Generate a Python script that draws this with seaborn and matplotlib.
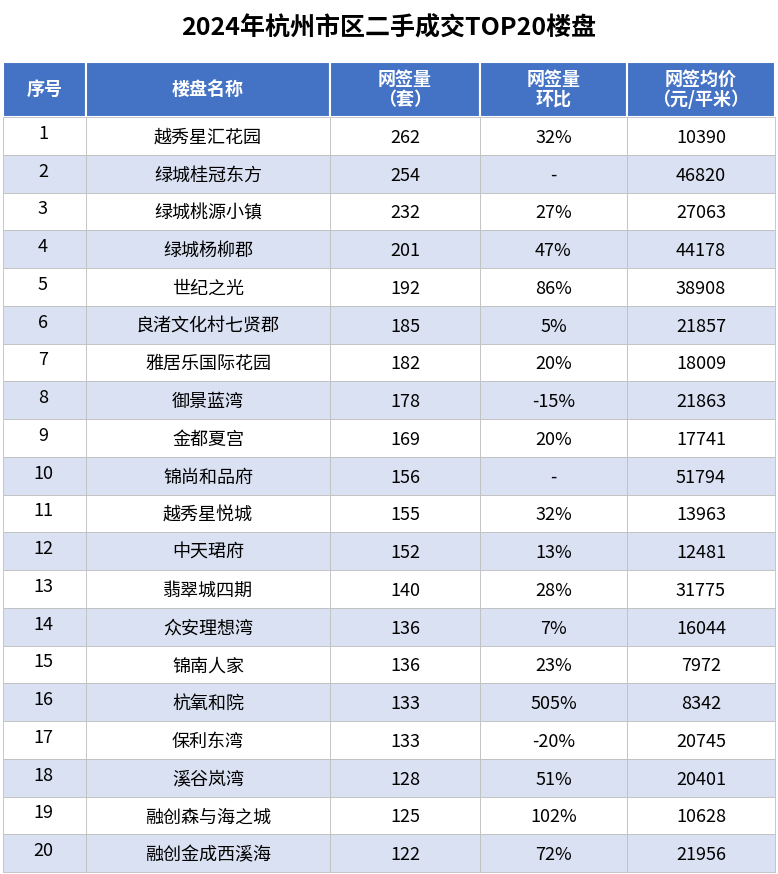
import matplotlib
matplotlib.use("Agg")
import matplotlib.pyplot as plt
import seaborn as sns
import numpy as np

sns.set_theme(style="white")
plt.rcParams['font.family'] = ['Noto Sans CJK SC', 'DejaVu Sans']

title = "2024年杭州市区二手成交TOP20楼盘"
headers = ["序号", "楼盘名称", "网签量\n（套）", "网签量\n环比", "网签均价\n（元/平米）"]
ranks = list(range(1, 21))
names = ["越秀星汇花园", "绿城桂冠东方", "绿城桃源小镇", "绿城杨柳郡", "世纪之光", "良渚文化村七贤郡",
         "雅居乐国际花园", "御景蓝湾", "金都夏宫", "锦尚和品府", "越秀星悦城", "中天珺府",
         "翡翠城四期", "众安理想湾", "锦南人家", "杭氧和院", "保利东湾", "溪谷岚湾",
         "融创森与海之城", "融创金成西溪海"]
volumes = [262, 254, 232, 201, 192, 185, 182, 178, 169, 156, 155, 152, 140, 136, 136, 133, 133, 128, 125, 122]
mom = ["32%", "-", "27%", "47%", "86%", "5%", "20%", "-15%", "20%", "-", "32%", "13%",
       "28%", "7%", "23%", "505%", "-20%", "51%", "102%", "72%"]
prices = [10390, 46820, 27063, 44178, 38908, 21857, 18009, 21863, 17741, 51794, 13963, 12481,
          31775, 16044, 7972, 8342, 20745, 20401, 10628, 21956]

W, H = 778, 874
fig = plt.figure(figsize=(W / 100, H / 100), dpi=100)
ax = fig.add_axes([0, 0, 1, 1])
ax.set_xlim(0, W)
ax.set_ylim(H, 0)
ax.axis("off")

xe = [3, 86, 330, 480, 627, 775]
head_top, head_bot = 62, 117
row_h = (872 - head_bot) / 20
header_c = "#4472C4"
stripe_c = "#D9E1F2"

ax.text(W / 2, 28, title, ha="center", va="center", fontsize=18, fontweight="bold", color="black")

for j in range(5):
    ax.add_patch(plt.Rectangle((xe[j], head_top), xe[j + 1] - xe[j], head_bot - head_top,
                               facecolor=header_c, edgecolor="white", lw=1.5))
    ax.text((xe[j] + xe[j + 1]) / 2, (head_top + head_bot) / 2, headers[j], ha="center", va="center",
            color="white", fontsize=13, fontweight="bold", linespacing=1.05)

for i in range(20):
    y0 = head_bot + i * row_h
    fc = stripe_c if i % 2 == 1 else "white"
    vals = [str(ranks[i]), names[i], str(volumes[i]), mom[i], str(prices[i])]
    for j in range(5):
        ax.add_patch(plt.Rectangle((xe[j], y0), xe[j + 1] - xe[j], row_h,
                                   facecolor=fc, edgecolor="#BFBFBF", lw=0.6))
        if j == 0:
            ax.text(43, y0 + row_h * 0.45, vals[j], ha="center", va="center", fontsize=13, color="black")
        else:
            ax.text((xe[j] + xe[j + 1]) / 2, y0 + row_h * 0.55, vals[j], ha="center", va="center",
                    fontsize=13, color="black")

fig.savefig("out.png", dpi=100, facecolor="white")
